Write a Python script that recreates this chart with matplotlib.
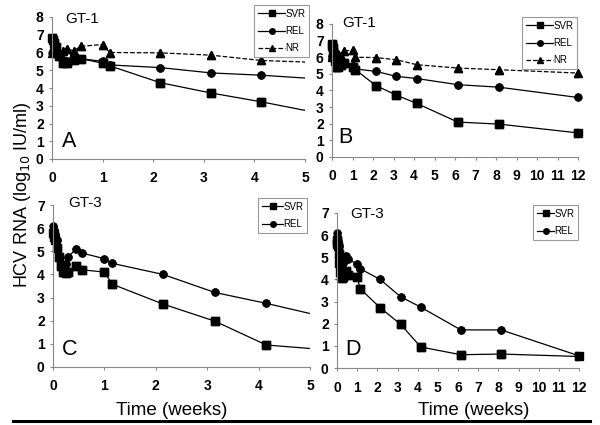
import matplotlib
matplotlib.use('Agg')
import matplotlib.pyplot as plt

plt.rcParams['font.family'] = ['Liberation Sans', 'DejaVu Sans']

# GT-1 (panels A and B)
t1 = [0, 0.02, 0.04, 0.07, 0.14, 0.21, 0.29, 0.43, 0.57, 1.0, 1.14, 2.14, 3.14, 4.14, 6.14, 8.14, 12]
svr1 = [6.8, 6.7, 6.55, 6.3, 5.8, 5.4, 5.4, 5.55, 5.65, 5.4, 5.25, 4.3, 3.72, 3.22, 2.1, 1.98, 1.45]
rel1 = [6.0, 6.1, 6.25, 6.0, 5.9, 5.6, 5.5, 5.6, 5.65, 5.5, 5.3, 5.15, 4.85, 4.72, 4.35, 4.2, 3.58]
nr1 = [6.0, 6.05, 6.1, 6.2, 6.05, 6.1, 6.2, 6.1, 6.35, 6.45, 6.0, 5.98, 5.85, 5.55, 5.35, 5.25, 5.05]

# GT-3 (panels C and D)
t3 = [0, 0.01, 0.02, 0.04, 0.08, 0.12, 0.15, 0.2, 0.26, 0.29, 0.44, 0.57, 1.0, 1.15, 2.14, 3.15, 4.15, 6.14, 8.14, 12]
svr3 = [5.8, 5.7, 5.6, 5.5, 5.15, 4.75, 4.35, 4.1, 4.05, 4.1, 4.38, 4.2, 4.1, 3.58, 2.72, 1.98, 0.95, 0.6, 0.63, 0.52]
rel3 = [6.1, 5.9, 5.8, 5.7, 5.5, 4.8, 4.45, 4.3, 4.45, 4.75, 5.08, 4.92, 4.68, 4.48, 4.0, 3.22, 2.75, 1.72, 1.72, 0.55]

tick_kw = dict(fontfamily=['Liberation Sans Narrow', 'Liberation Sans', 'DejaVu Sans'],
               fontweight='bold', fontsize=10)

fig = plt.figure(figsize=(6, 4.25), dpi=100)


def make_axes(rect, xmax, ymax):
    ax = fig.add_axes(rect)
    ax.set_xlim(0, xmax)
    ax.set_ylim(0, ymax)
    xt = list(range(0, xmax + 1))
    yt = list(range(0, ymax + 1))
    ax.set_xticks(xt, [str(v) for v in xt], **tick_kw)
    ax.set_yticks(yt, [str(v) for v in yt], **tick_kw)
    for s in ['top', 'right']:
        ax.spines[s].set_visible(False)
    for s in ['left', 'bottom']:
        ax.spines[s].set_color('#888888')
        ax.spines[s].set_linewidth(0.8)
    ax.tick_params(length=2, width=0.8, color='#888888')
    ax.tick_params(axis='x', pad=7)
    ax.tick_params(axis='y', pad=4)
    return ax


def series(ax, t, v, ls, marker, ms, label):
    xmax = ax.get_xlim()[1]
    ax.plot(t, v, ls, color='black', lw=0.9, marker=marker, ms=ms, label=label)
    tin = [a for a in t if a <= xmax]
    vin = [b for a, b in zip(t, v) if a <= xmax]
    ax.plot(tin, vin, ls='none', color='black', marker=marker, ms=ms, clip_on=False)


def draw(ax, t, svr, rel, nr=None):
    series(ax, t, svr, '-', 's', 5.5, 'SVR')
    series(ax, t, rel, '-', 'o', 5, 'REL')
    if nr is not None:
        series(ax, t, nr, '--', '^', 5.5, 'NR')


def legend(ax, x0, y0, hl):
    leg = ax.legend(loc='upper left', bbox_to_anchor=(x0 / 600, 1 - y0 / 425),
                    bbox_transform=fig.transFigure, fontsize=7, handlelength=hl,
                    handletextpad=0.0, borderpad=0.4, labelspacing=0.75,
                    fancybox=False, framealpha=1, borderaxespad=0,
                    markerscale=0.8)
    leg.get_frame().set_edgecolor('#999999')
    leg.get_frame().set_linewidth(0.8)


axA = make_axes([52 / 600, 1 - 159 / 425, 253 / 600, 142 / 425], 5, 8)
draw(axA, t1, svr1, rel1, nr1)
legend(axA, 254, 5, 2.8)

axB = make_axes([332 / 600, 1 - 157 / 425, 246 / 600, 133 / 425], 12, 8)
draw(axB, t1, svr1, rel1, nr1)
legend(axB, 522, 17, 2.8)

axC = make_axes([53 / 600, 1 - 367 / 425, 257 / 600, 162 / 425], 5, 7)
draw(axC, t3, svr3, rel3)
legend(axC, 258, 198, 2.2)

axD = make_axes([337 / 600, 1 - 368 / 425, 242 / 600, 155 / 425], 12, 7)
draw(axD, t3, svr3, rel3)
legend(axD, 533, 205, 1.8)

# panel titles and letters
for x, y, s in [(65, 23, 'GT-1'), (342, 27, 'GT-1'), (68, 207, 'GT-3'), (350, 218, 'GT-3')]:
    fig.text(x / 600, 1 - y / 425, s, fontsize=11)
for x, y, s in [(62, 147, 'A'), (338, 143, 'B'), (62, 355, 'C'), (345, 355, 'D')]:
    fig.text(x / 600, 1 - y / 425, s, fontsize=15.5)

fig.text(23 / 600, 1 - 195 / 425, r'HCV RNA (log$_{10}$ IU/ml)', rotation=90,
         fontsize=13, ha='center', va='center')
fig.text(172 / 600, 1 - 415 / 425, 'Time (weeks)', fontsize=13.5, ha='center', va='baseline')
fig.text(474 / 600, 1 - 415 / 425, 'Time (weeks)', fontsize=13.5, ha='center', va='baseline')

fig.add_artist(plt.Line2D([13 / 600, 590 / 600], [1 - 421 / 425, 1 - 421 / 425],
                          color='black', lw=2.2))

fig.savefig('out.png', dpi=100)
